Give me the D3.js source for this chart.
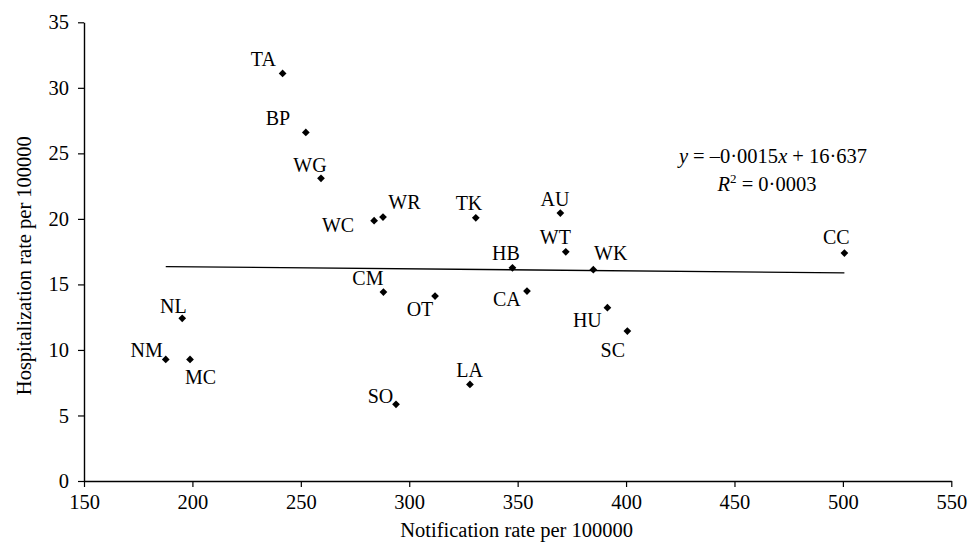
<!DOCTYPE html>
<html>
<head>
<meta charset="utf-8">
<script src="https://cdn.jsdelivr.net/npm/d3@7"></script>
<style>
  html, body { margin: 0; padding: 0; background: #fff; }
  svg { display: block; }
  text { font-family: "Liberation Serif", "Times New Roman", serif; fill: #000; }
</style>
</head>
<body>
<svg id="chart" width="970" height="543"></svg>
<script>
// ---- data ----
const codes = ["TA","BP","WG","WC","WR","TK","AU","WT","HB","WK","CC","CM","OT","CA","HU","SC","LA","SO","NL","NM","MC"];
const notificationRate = [241.6,252.3,259.3,283.8,287.9,330.7,369.7,372.2,347.6,384.9,500.7,288.1,311.9,354.3,391.4,400.6,328.0,293.9,195.3,187.7,198.9];
const hospitalizationRate = [31.1,26.6,23.1,19.86,20.14,20.08,20.44,17.49,16.27,16.12,17.39,14.42,14.11,14.49,13.22,11.44,7.37,5.85,12.41,9.28,9.28];
const xTicks = [150,200,250,300,350,400,450,500,550];
const yTicks = [0,5,10,15,20,25,30,35];
const slope = -0.0015;
const intercept = 16.637;
const rSquared = "0·0003";

// ---- label placement (layout only) ----
const labelPlacement = {
  TA:{a:"end",dx:-6.7,dy:-7}, BP:{a:"end",dx:-15.7,dy:-7}, WG:{a:"end",dx:5.7,dy:-6},
  WC:{a:"end",dx:-20,dy:11}, WR:{a:"start",dx:5.3,dy:-7.7}, TK:{a:"middle",dx:-6.8,dy:-7.7},
  AU:{a:"middle",dx:-5.3,dy:-7}, WT:{a:"middle",dx:-10.4,dy:-7.7}, HB:{a:"middle",dx:-6.6,dy:-7.7},
  WK:{a:"start",dx:0.7,dy:-9.7}, CC:{a:"middle",dx:-8.1,dy:-9}, CM:{a:"end",dx:0,dy:-7},
  OT:{a:"end",dx:-1.7,dy:20}, CA:{a:"end",dx:-6.3,dy:15}, HU:{a:"end",dx:-5.6,dy:19},
  SC:{a:"end",dx:-2.3,dy:25.7}, LA:{a:"middle",dx:-0.3,dy:-7.6}, SO:{a:"end",dx:-2.7,dy:-1.6},
  NL:{a:"end",dx:4.4,dy:-5}, NM:{a:"end",dx:-3,dy:-2.6}, MC:{a:"start",dx:-5,dy:24.7}
};

const points = codes.map((c,i)=>({code:c, x:notificationRate[i], y:hospitalizationRate[i]}));

const svg = d3.select("#chart");
const x = d3.scaleLinear().domain([150,550]).range([84,951.3]);
const y = d3.scaleLinear().domain([0,35]).range([481,22.3]);

// axes
const xAxis = svg.append("g").attr("transform",`translate(0,${y(0)})`)
  .call(d3.axisBottom(x).tickValues(xTicks).tickSize(6).tickSizeOuter(0).tickPadding(7).tickFormat(d3.format("d")));
const yAxis = svg.append("g").attr("transform",`translate(${x(150)},0)`)
  .call(d3.axisLeft(y).tickValues(yTicks).tickSize(6).tickSizeOuter(0).tickPadding(9).tickFormat(d3.format("d")));
[xAxis,yAxis].forEach(g=>{
  g.selectAll("path.domain").attr("stroke","#000").attr("stroke-width",1.4);
  g.selectAll(".tick line").attr("stroke","#000").attr("stroke-width",1.2);
  g.selectAll(".tick text").attr("font-family","Liberation Serif, Times New Roman, serif").attr("font-size",20.5).attr("fill","#000");
});

// axis titles
svg.append("text").attr("x",(x(150)+x(550))/2 - 1).attr("y",537).attr("text-anchor","middle")
  .attr("font-size",20.5).text("Notification rate per 100000");
svg.append("text").attr("transform",`translate(31,${(y(0)+y(35))/2 + 14}) rotate(-90)`).attr("text-anchor","middle")
  .attr("font-size",20.5).text("Hospitalization rate per 100000");

// regression line
const xExt = d3.extent(notificationRate);
svg.append("line")
  .attr("x1",x(xExt[0])).attr("y1",y(slope*xExt[0]+intercept))
  .attr("x2",x(xExt[1])).attr("y2",y(slope*xExt[1]+intercept))
  .attr("stroke","#000").attr("stroke-width",1.3);

// markers
const diamond = { draw(ctx, size){ const r = Math.sqrt(size)/2*1.414; ctx.moveTo(0,-r); ctx.lineTo(r,0); ctx.lineTo(0,r); ctx.lineTo(-r,0); ctx.closePath(); } };
svg.append("g").selectAll("path").data(points).join("path")
  .attr("transform",d=>`translate(${x(d.x)},${y(d.y)})`)
  .attr("d",d3.symbol().type(diamond).size(30))
  .attr("fill","#000");

// point labels
svg.append("g").selectAll("text").data(points).join("text")
  .attr("x",d=>x(d.x)+labelPlacement[d.code].dx)
  .attr("y",d=>y(d.y)+labelPlacement[d.code].dy)
  .attr("text-anchor",d=>labelPlacement[d.code].a)
  .attr("font-size",20)
  .text(d=>d.code);

// equation
const eq = svg.append("text").attr("x",773).attr("y",163).attr("text-anchor","middle").attr("font-size",20.5);
eq.append("tspan").attr("font-style","italic").text("y");
eq.append("tspan").text(" = \u2013" + "0·" + String(Math.abs(slope)).split(".")[1]);
eq.append("tspan").attr("font-style","italic").text("x");
eq.append("tspan").text(" + " + String(intercept).replace(".","·"));
const r2 = svg.append("text").attr("x",767).attr("y",191).attr("text-anchor","middle").attr("font-size",20.5);
r2.append("tspan").attr("font-style","italic").text("R");
r2.append("tspan").attr("dy",-8).attr("font-size",13).text("2");
r2.append("tspan").attr("dy",8).text(" = " + rSquared);
</script>
</body>
</html>
